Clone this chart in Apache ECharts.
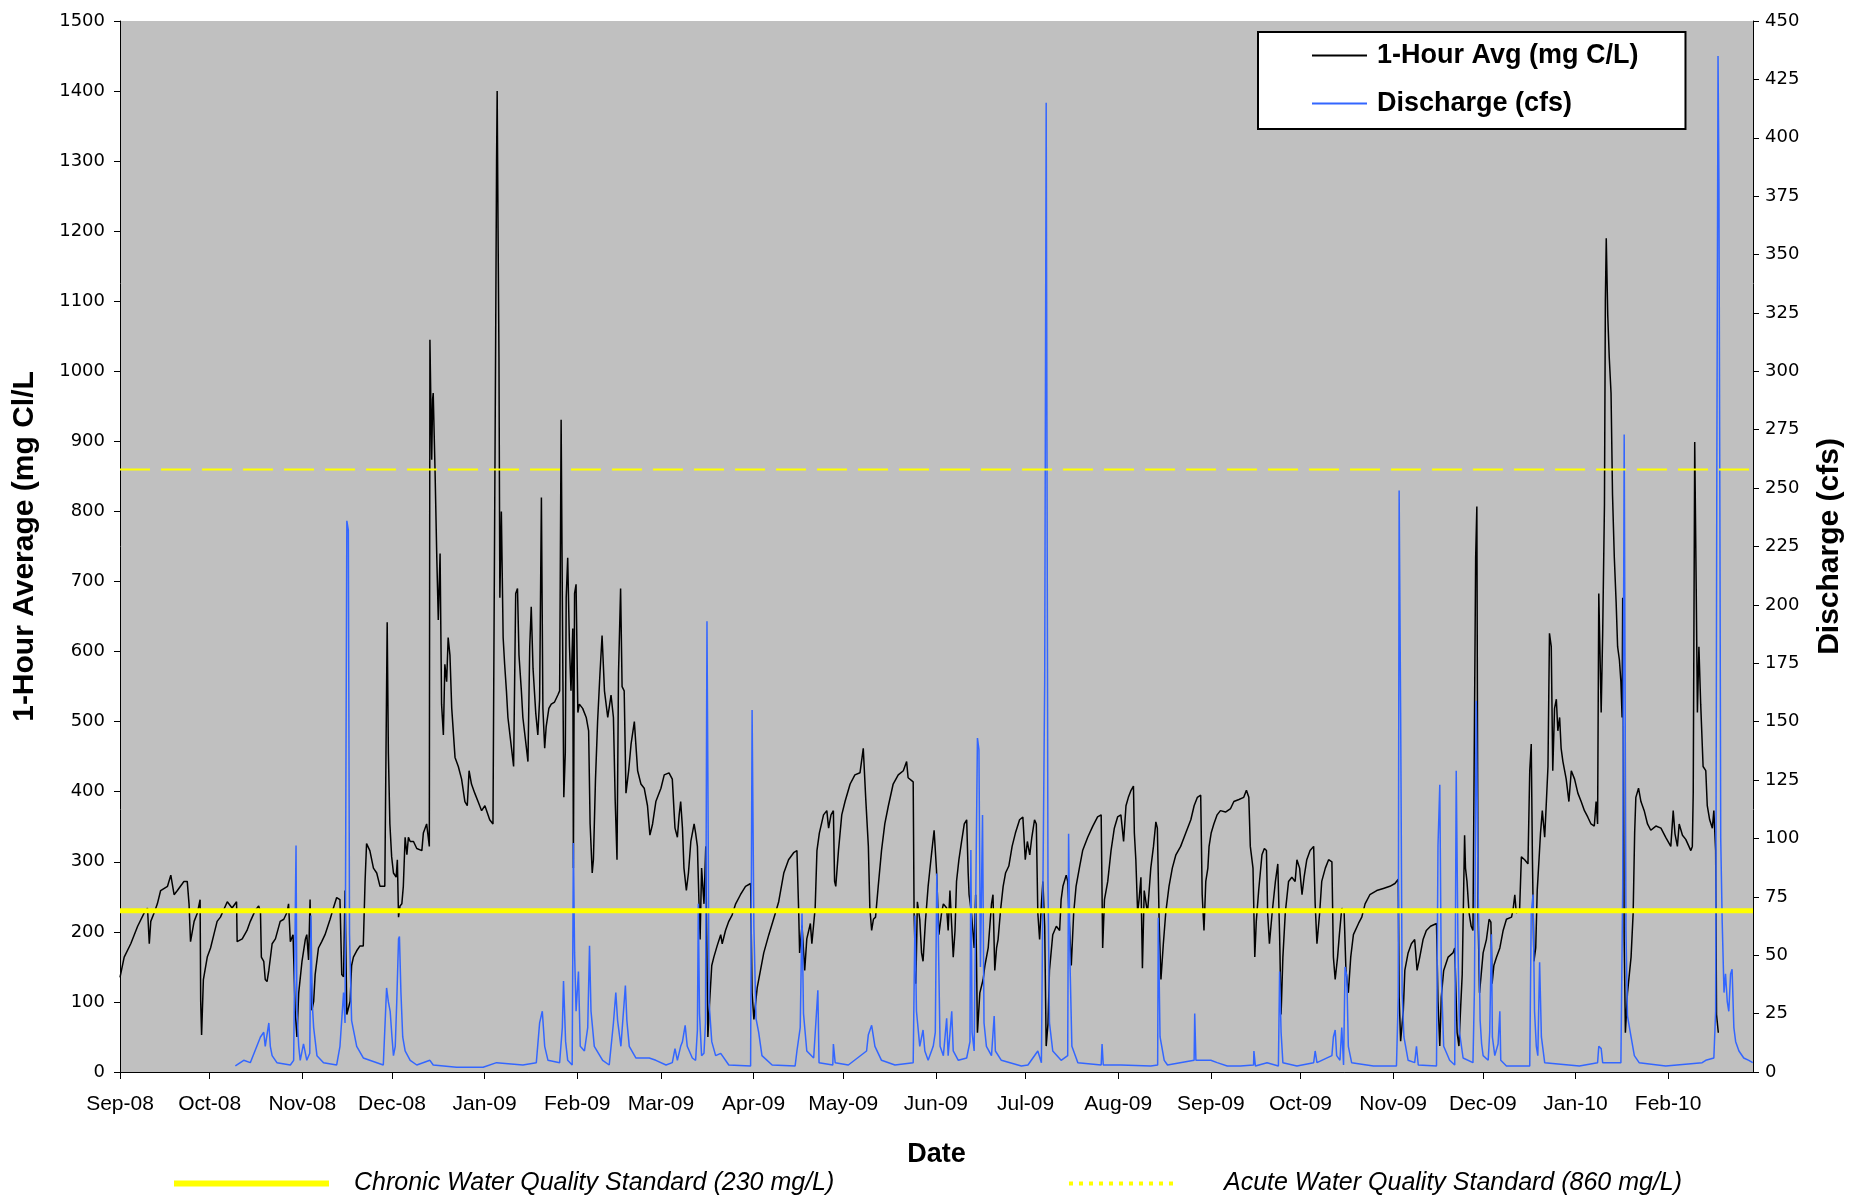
<!DOCTYPE html>
<html>
<head>
<meta charset="utf-8">
<script src="https://cdn.jsdelivr.net/npm/echarts@6/dist/echarts.min.js"></script>
<style>
html,body{margin:0;padding:0;background:#fff;}
#chart{width:1853px;height:1198px;}
</style>
</head>
<body>
<div id="chart"></div>
<script>
// ---- DATA (day offsets are days since 1 Sep 2008) ----
const startYear = 2008, startMonth = 8; // Sep 2008
const axisEndDay = 546.4;
const monthLabels = ['Sep-08','Oct-08','Nov-08','Dec-08','Jan-09','Feb-09','Mar-09','Apr-09','May-09','Jun-09',
  'Jul-09','Aug-09','Sep-09','Oct-09','Nov-09','Dec-09','Jan-10','Feb-10'];
const chronicStandard = 230;
const acuteStandard = 860;

// 1-Hour average chloride (mg/L): [day, value]
const chloride = [
[0,135],[1.4,164],[3.6,183],[5.9,208],[8.1,227],[9.2,234],[9.8,183],[10.3,215],[11.4,227],[12.5,240],[13.6,259],[15.9,265],[17.0,281],[18.1,253],[19.2,259],[20.9,269],[21.4,272],[22.5,272],[23.1,240],[23.6,186],[24.8,215],[25.9,227],[26.8,246],[27.0,101],[27.3,53],[27.9,132],[29.2,164],[30.3,177],[31.4,196],[32.5,215],[33.6,221],[35.9,243],[36.4,245],[37.5,234],[39.0,243],[39.2,186],[40.9,190],[42.5,202],[43.6,215],[45.3,231],[46.4,237],[47.0,228],[47.3,164],[48.1,158],[48.6,132],[49.2,129],[49.8,145],[50.9,183],[52.0,190],[53.6,215],[54.8,218],[55.9,228],[56.4,240],[57.0,186],[57.9,196],[58.6,88],[59.2,50],[59.8,113],[60.9,158],[62.0,189],[62.5,196],[63.1,160],[63.6,246],[64.2,88],[64.8,101],[65.3,139],[66.4,177],[67.5,186],[68.6,196],[70.3,218],[71.4,234],[72.5,249],[73.6,246],[74.2,139],[74.8,136],[75.3,259],[75.9,82],[77.0,101],[77.5,152],[78.1,164],[79.2,173],[80.3,180],[81.4,180],[82.0,272],[82.5,326],[83.6,316],[84.8,291],[85.9,284],[87.0,265],[88.6,265],[89.0,455],[89.4,642],[89.8,455],[90.3,354],[90.9,307],
[91.5,284],[92.4,278],[92.8,303],[93.2,221],[93.7,237],[94.3,240],[94.8,265],[95.4,335],[96.0,310],[96.5,335],[97.1,329],[98.2,329],[99.3,319],[101.0,316],[101.5,341],[102.6,354],[103.5,322],[103.7,1045],[104.3,874],[104.6,960],[104.8,969],[105.4,861],[106.0,734],[106.5,645],[107.1,740],[107.6,525],[108.2,481],[108.7,582],[109.3,557],[109.8,620],[110.4,595],[111.0,519],[112.1,449],[113.2,436],[114.3,418],[115.4,386],[116.2,380],[116.8,430],[117.6,411],[118.7,398],[119.8,386],[121.0,373],[122.1,380],[123.7,360],[124.8,354],[125.4,354],[125.7,1050],[126.0,1300],[126.2,1400],[126.5,1200],[126.8,1020],[127.1,677],[127.6,800],[128.2,620],[128.7,582],[129.3,544],[129.8,506],[131.0,462],[131.7,436],[132.4,683],[133.0,690],[133.5,595],[134.3,544],[134.8,506],[136.0,462],[136.5,443],[137.1,607],[137.6,664],[138.2,576],[139.1,513],[139.8,481],[140.4,532],[141.0,820],[141.5,519],[142.1,462],[142.6,493],[143.5,519],[144.3,525],[145.4,528],[146.5,538],[147.1,544],[147.6,931],[147.8,804],[148.2,557],[148.5,392],[149.0,456],[149.3,677],[149.8,734],[150.4,607],[150.9,544],[151.5,633],[151.7,291],[152.1,683],[152.6,696],[153.2,513],[153.7,525],[154.8,519],[156.0,506],[156.8,487],[157.3,354],[158.0,284],[158.4,303],[159.1,418],[159.8,500],[160.6,569],[161.3,623],[162.1,544],[163.2,506],[164.3,538],[165.1,506],[165.7,386],[166.3,303],[166.8,569],[167.5,690],[168.0,550],[168.7,544],[169.3,398],[170.2,430],[171.0,468],[172.1,500],[172.6,468],[173.2,430],[174.3,411],[175.4,405],[176.5,380],[177.3,338],[178.2,354],[179.3,386],[181.0,405],
[182.1,424],[183.7,427],[184.8,418],[185.7,348],[186.5,335],[187.1,367],[187.6,386],[188.2,348],[188.7,291],[189.5,259],[190.2,284],[191.0,329],[192.1,354],[192.6,341],[193.2,322],[193.7,246],[194.1,189],[194.6,291],[195.4,240],[196.0,322],[196.3,196],[196.7,50],[197.3,101],[198.0,152],[198.7,164],[199.8,180],[201.0,196],[201.5,183],[202.6,202],[203.7,215],[204.8,224],[206.0,240],[207.6,253],[209.3,265],[211.0,269],[211.5,113],[212.1,75],[213.2,120],[214.3,145],[215.4,170],[217.1,196],[219.3,227],[220.4,243],[222.1,284],[223.7,303],[225.4,313],[226.5,316],[227.1,227],[227.4,170],[228.2,209],[229.1,145],[229.8,190],[231.0,212],[231.5,183],[232.6,234],[233.2,316],[234.0,341],[235.4,367],[236.5,373],[237.1,348],[237.9,367],[238.7,373],[239.1,272],[239.5,265],[240.4,316],[241.5,367],[242.6,386],[244.3,411],[245.9,424],[247.6,427],[248.7,462],[249.5,392],[250.4,322],[250.9,234],[251.5,202],[252.1,218],[252.8,221],[253.7,265],[254.8,316],[255.9,354],[257.1,380],[258.7,411],[260.4,424],[262.1,430],[263.2,443],[263.7,420],[265.4,414],[265.7,227],[266.3,126],[266.8,243],[267.6,218],[268.2,170],[268.7,158],[269.5,215],[270.4,265],[271.5,310],[272.4,345],[273.2,288],
[274.0,196],[274.9,227],[275.5,240],[276.6,234],[277.1,202],[277.7,259],[278.3,208],[278.8,164],[279.4,202],[279.9,272],[280.7,303],[281.6,329],[282.5,354],[283.3,360],[283.8,284],[284.1,253],[284.9,227],[285.8,177],[286.3,253],[286.9,56],[287.7,113],[288.8,132],[289.4,152],[290.5,177],[291.6,240],[292.1,253],[292.7,145],[293.3,177],[293.8,189],[294.7,234],[295.5,265],[296.3,284],[297.4,294],[298.5,322],[299.6,341],[301.0,360],[302.1,364],[302.9,303],[303.6,329],[304.4,310],[305.1,335],[306.0,360],[306.6,354],[307.1,227],[307.7,189],[308.3,240],[308.8,272],[309.4,208],[309.9,37],[310.5,69],[311.0,145],[312.1,196],[313.3,208],[314.4,202],[314.9,246],[315.5,265],[316.6,281],[317.1,272],[317.7,208],[318.3,152],[319.1,227],[319.9,265],[321.0,291],[322.1,316],[323.8,335],[325.5,351],[327.1,364],[328.3,367],[328.8,177],[329.4,246],[330.5,272],[331.6,316],[332.7,348],[333.8,364],[334.9,367],[335.8,329],[336.6,380],[337.4,392],[338.3,402],[339.1,408],[339.4,341],[339.9,303],[340.5,227],[341.0,247],[341.6,278],[342.1,148],[342.7,259],[343.8,227],[344.9,291],[345.8,322],[346.6,357],[347.1,348],[347.7,215],[348.3,132],[349.1,183],[349.9,227],[351.0,265],[352.1,291],[353.3,310],[354.9,322],[356.6,341],[358.3,360],[359.4,380],[360.5,392],[361.6,395],[362.1,253],[362.7,202],[363.3,272],[364.0,291],
[364.4,322],[365.1,341],[366.0,354],[367.1,367],[368.2,373],[369.9,371],[371.6,376],[372.7,386],[374.4,389],[376.0,392],[376.9,402],[377.7,392],[378.2,322],[379.1,291],[379.7,164],[380.2,215],[381.0,259],[382.1,310],[382.9,319],[383.6,316],[384.0,227],[384.6,183],[385.5,227],[386.6,272],[387.4,297],[388.0,196],[388.5,82],[389.1,164],[389.9,227],[391.0,272],[392.1,278],[393.2,272],[393.8,303],[394.7,291],[395.5,253],[396.2,278],[397.1,303],[398.2,316],[399.4,322],[399.9,240],[400.5,183],[401.4,227],[402.1,272],[403.3,291],[404.4,303],[405.5,300],[406.0,164],[406.6,132],[407.4,164],[408.0,196],[408.8,234],[409.6,227],[410.2,145],[411.0,113],[411.8,164],[412.7,196],[414.4,212],[415.5,221],[416.6,240],[418.2,253],[420.5,259],[422.7,262],[424.9,265],[426.6,269],[427.7,275],[428.0,107],[428.5,44],[429.4,88],[429.9,145],[431.0,170],[432.1,183],[433.2,189],[434.0,145],[434.9,164],[436.0,189],[437.1,202],[438.5,208],[440.5,212],[441.0,101],[441.6,37],[442.1,107],[442.9,145],[444.4,164],[446.0,170],[446.6,177],[447.4,56],[448.0,37],[448.6,94],[449.1,139],[449.9,338],[450.2,291],[450.7,272],[451.4,227],[452.1,208],[452.7,202],[453.2,500],[453.6,734],[454.0,807],[454.4,227],[454.9,113],
[455.3,132],[456.1,170],[457.2,189],[458.1,218],[458.7,214],[459.1,126],[459.7,152],[460.6,164],[461.7,177],[462.8,202],[463.9,218],[465.6,221],[466.1,231],[466.7,253],[467.2,227],[468.3,231],[468.9,307],[470.0,303],[471.1,297],[471.7,430],[472.2,468],[472.6,303],[473.1,158],[473.7,177],[474.2,259],[474.8,303],[475.3,341],[475.9,373],[476.7,335],[477.2,380],[477.8,436],[478.3,626],[478.9,607],[479.4,430],[480.0,519],[480.6,532],[481.1,487],[481.7,506],[482.2,462],[482.8,443],[483.9,418],[484.8,386],[485.6,430],[486.7,418],[487.8,398],[488.9,386],[490.0,373],[491.1,364],[492.2,354],[493.3,351],[493.9,386],[494.4,354],[494.8,683],[495.6,513],[496.1,626],[496.7,810],[497.0,1100],[497.3,1190],[497.8,1080],[498.3,1020],[498.9,969],[499.4,823],[500.0,734],[500.6,671],[501.1,607],[501.7,588],[502.2,557],[502.6,506],[502.8,677],[503.0,506],[503.3,189],[503.7,56],[504.4,113],[505.6,164],[506.3,227],[506.8,341],[507.2,392],[508.1,405],[508.9,386],[510.0,373],[511.1,354],[512.2,345],[513.9,351],[515.6,348],[517.2,335],[518.9,322],[519.7,373],[520.3,340],[521.1,322],[521.7,354],[522.8,338],[523.9,332],[525.6,316],[526.1,322],[526.4,398],[526.9,899],[527.4,690],[527.8,513],[528.3,607],[528.9,525],[529.7,436],[530.6,430],[531.1,380],[531.9,360],[532.8,348],[533.3,373],[533.9,316],[534.2,82],[534.8,56]
];

// Discharge (cfs): [day, value]
const discharge = [
[38.6,2.6],[41.4,5],[43.6,4],[47.0,15],[48.1,17],[48.6,11],[49.8,21],[50.3,11],[50.9,7],[52.5,4],[57.0,3],[58.1,5],[58.9,97],[59.2,26],[59.8,11],[60.3,5],[61.4,12],[62.5,5],[63.5,8],[63.9,67],[64.3,30],[64.8,19],[65.9,7],[68.1,4],[72.5,3],[73.6,11],[74.8,34],[75.3,21],[75.9,236],[76.4,232],[76.8,59],[77.5,22],[79.2,11],[81.4,6],[88.1,3],[89.2,36],[89.8,30],[90.4,26],[91.0,15],[91.5,7],[92.1,11],[92.6,30],[93.2,57],[93.5,58],[94.0,34],[94.6,15],[95.4,9],[97.1,5],[99.3,3],[103.7,5],[104.8,3],[112.6,2],[121.5,2],[126.0,4],[134.8,3],[139.3,4],[140.4,21],[141.3,26],[142.1,11],[143.2,5],[147.1,4],[148.0,19],[148.4,39],[149.1,13],[149.8,5],[151.3,3],[151.7,98],[152.1,51],[152.6,26],[153.4,43],[154.0,11],[155.4,9],[156.5,19],[157.1,54],[157.6,26],[158.7,11],[161.5,5],[163.7,3],[165.1,21],[165.9,34],[166.5,22],[167.6,11],[169.1,37],[169.6,22],[170.4,11],[172.6,6],[177.1,6],[179.3,5],[182.7,3],
[184.8,4],[185.7,10],[186.5,5],[187.6,11],[188.2,13],[189.1,20],[189.8,11],[191.5,6],[192.6,5],[193.2,18],[193.5,72],[193.9,25],[194.6,7],[195.4,8],[195.9,21],[196.4,193],[196.7,128],[197.1,30],[198.0,13],[199.3,7],[201.0,8],[203.7,3],[211.0,2.6],[211.5,155],[212.1,62],[212.8,23],[213.7,17],[214.8,7],[218.2,3],[225.9,2.6],[226.5,9],[227.6,19],[228.2,68],[228.7,25],[229.8,9],[232.1,6],[233.5,35],[233.9,4],[238.5,3],[238.7,12],[239.3,4],[243.7,3],[249.8,9],[250.4,16],[251.5,20],[252.6,11],[254.8,5],[259.3,3],[265.4,4],[266.0,67],[266.5,26],[267.6,11],[268.7,18],[269.3,9],[270.4,5],[272.1,11],[272.8,17],[273.3,85],[273.8,59],[274.4,11],[275.5,7],[276.6,23],[277.1,7],[278.3,26],[278.8,9],[280.5,5],[283.3,6],[284.4,13],[284.7,95],[285.1,17],[285.8,9],[286.9,143],[287.4,138],[287.9,45],[288.6,110],[289.1,21],[289.9,11],[291.6,7],[292.5,24],[292.9,9],[294.9,5],[301.6,2.6],[303.8,3],[307.1,9],[308.3,4],[309.4,167],[309.9,415],[310.5,82],[311.0,21],[312.1,9],[314.9,5],[317.1,7],[317.4,102],[317.9,45],[318.5,11],[320.5,4],[328.3,3],[328.6,12],[329.0,3],[334.9,3],[344.9,2.6],[347.2,3],[347.4,66],[348.0,15],[349.4,5],[350.5,3],[359.4,5],[359.6,25],[360.0,5],[365.0,5],
[367.1,4],[370.5,2.6],[374.9,2.6],[379.3,3],[379.4,9],[379.9,2.6],[383.8,4],[387.6,2.6],[388.0,43],[388.5,17],[389.1,4],[393.8,2.6],[399.4,4],[399.9,9],[400.5,4],[405.5,7],[406.0,15],[406.6,18],[407.1,7],[408.2,5],[408.8,19],[409.4,3],[409.9,45],[410.5,41],[411.0,11],[412.1,4],[419.4,2.6],[427.1,2.6],[427.7,32],[428.0,249],[428.5,154],[429.0,34],[429.6,15],[431.0,5],[433.2,4],[433.8,11],[434.4,3],[440.5,2.6],[441.0,97],[441.6,123],[442.1,42],[442.9,11],[444.9,5],[446.6,3],[447.1,129],[447.7,53],[448.2,17],[449.4,6],[452.7,4],[453.2,36],[453.8,159],[454.4,81],[455.1,22],[455.6,12],[456.1,7],[457.8,5],[458.3,17],[458.9,59],[459.2,15],[460.0,7],[461.1,12],[461.7,26],[462.0,5],[463.9,2.6],[471.7,2.6],[472.2,68],[472.8,76],[473.3,26],[473.9,11],[474.4,7],[475.0,47],[475.6,15],[476.7,4],[488.3,2.6],[494.4,4],[494.8,11],[495.6,10],[496.1,4],[502.2,4],[502.8,79],[503.3,273],[503.9,60],[504.4,24],[505.6,15],[506.7,7],[508.3,4],[517.2,2.6],[529.4,4],[530.6,5],[533.3,6],[533.9,26],[534.3,258],[534.7,435],[535.0,380],[535.3,250],[535.6,100],[536.1,64],[536.7,34],[537.2,42],[537.8,30],[538.3,26],[538.9,42],[539.4,44],[540.0,19],[540.6,13],[541.7,9],[543.3,6],[545.0,5],[546.3,4]
];

// ---- BUILD ----
const DAY = 86400000;
const t0 = Date.UTC(startYear, startMonth, 1);
// day offset of the first of each labelled month
const monthDays = monthLabels.map((_, i) => Math.round((Date.UTC(startYear, startMonth + i, 1) - t0) / DAY));
const labelOf = {};
monthDays.forEach((d, i) => { labelOf[d] = monthLabels[i]; });

const nameCl = '1-Hour Avg (mg C/L)';
const nameQ = 'Discharge (cfs)';
const nameChronic = 'Chronic Water Quality Standard (230 mg/L)';
const nameAcute = 'Acute Water Quality Standard (860 mg/L)';

const chart = echarts.init(document.getElementById('chart'), null, {renderer: 'canvas'});
chart.setOption({
  animation: false,
  backgroundColor: '#ffffff',
  grid: {left: 120, right: 96, top: 21, bottom: 126, show: true, backgroundColor: '#c0c0c0', borderWidth: 0},
  xAxis: {
    type: 'value', min: 0, max: axisEndDay,
    name: 'Date', nameLocation: 'middle', nameGap: 69,
    nameTextStyle: {fontFamily: 'Liberation Sans', fontWeight: 'bold', fontSize: 27, color: '#000'},
    axisLine: {show: true, onZero: false, lineStyle: {color: '#000', width: 1}},
    axisTick: {show: true, length: 7, customValues: monthDays, lineStyle: {color: '#000'}},
    axisLabel: {show: true, customValues: monthDays, margin: 22, fontFamily: 'Liberation Sans', fontSize: 21, color: '#000',
      formatter: v => labelOf[Math.round(v)] || ''},
    splitLine: {show: false}
  },
  yAxis: [{
    type: 'value', min: 0, max: 1500, interval: 100, position: 'left',
    name: '1-Hour Average (mg Cl/L', nameLocation: 'middle', nameRotate: 90, nameGap: 80,
    nameTextStyle: {fontFamily: 'Liberation Sans', fontWeight: 'bold', fontSize: 30, color: '#000'},
    axisLine: {show: true, lineStyle: {color: '#000', width: 1}},
    axisTick: {show: true, length: 6, lineStyle: {color: '#000'}},
    axisLabel: {margin: 15, fontFamily: 'DejaVu Sans', fontSize: 18, color: '#000', formatter: v => String(v)},
    splitLine: {show: false}
  }, {
    type: 'value', min: 0, max: 450, interval: 25, position: 'right',
    name: 'Discharge (cfs)', nameLocation: 'middle', nameRotate: 90, nameGap: 62,
    nameTextStyle: {fontFamily: 'Liberation Sans', fontWeight: 'bold', fontSize: 30, color: '#000'},
    axisLine: {show: true, lineStyle: {color: '#000', width: 1}},
    axisTick: {show: true, length: 6, lineStyle: {color: '#000'}},
    axisLabel: {margin: 12, fontFamily: 'DejaVu Sans', fontSize: 18, color: '#000', formatter: v => String(v)},
    splitLine: {show: false}
  }],
  legend: [{
    data: [nameCl, nameQ], orient: 'vertical', left: 1258, top: 32,
    itemWidth: 55, itemHeight: 14, itemGap: 21,
    backgroundColor: '#ffffff', borderColor: '#000', borderWidth: 2, borderRadius: 0,
    padding: [10, 47, 12, 53], selectedMode: false,
    lineStyle: {width: 2}, itemStyle: {opacity: 0},
    textStyle: {fontFamily: 'Liberation Sans', fontWeight: 'bold', fontSize: 27, color: '#000', padding: [0, 0, 0, 5]}
  }, {
    data: [nameChronic], left: 171, top: 1171, padding: 0,
    itemWidth: 155, itemHeight: 8, selectedMode: false,
    lineStyle: {width: 6}, itemStyle: {opacity: 0},
    textStyle: {fontFamily: 'Liberation Sans', fontStyle: 'italic', fontSize: 25, color: '#000', padding: [0, 0, 0, 20]}
  }, {
    data: [nameAcute], left: 1067, top: 1171, padding: 0,
    itemWidth: 107, itemHeight: 8, selectedMode: false,
    lineStyle: {width: 4, type: [4, 6]}, itemStyle: {opacity: 0},
    textStyle: {fontFamily: 'Liberation Sans', fontStyle: 'italic', fontSize: 25, color: '#000', padding: [0, 0, 0, 43]}
  }],
  series: [{
    name: nameCl, type: 'line', yAxisIndex: 0, data: chloride,
    symbol: 'none', lineStyle: {color: '#000000', width: 1.5}, itemStyle: {color: '#000000'}, z: 3
  }, {
    name: nameQ, type: 'line', yAxisIndex: 1, data: discharge,
    symbol: 'none', lineStyle: {color: '#3366ff', width: 1.5}, itemStyle: {color: '#3366ff'}, z: 4
  }, {
    name: nameChronic, type: 'line', yAxisIndex: 0,
    data: [[0, chronicStandard], [axisEndDay, chronicStandard]],
    symbol: 'none', lineStyle: {color: '#ffff00', width: 5}, itemStyle: {color: '#ffff00'}, z: 5
  }, {
    name: nameAcute, type: 'line', yAxisIndex: 0,
    data: [[0, acuteStandard], [axisEndDay, acuteStandard]],
    symbol: 'none', lineStyle: {color: '#ffff00', width: 2, type: [30, 11]}, itemStyle: {color: '#ffff00'}, z: 5
  }]
});
</script>
</body>
</html>
